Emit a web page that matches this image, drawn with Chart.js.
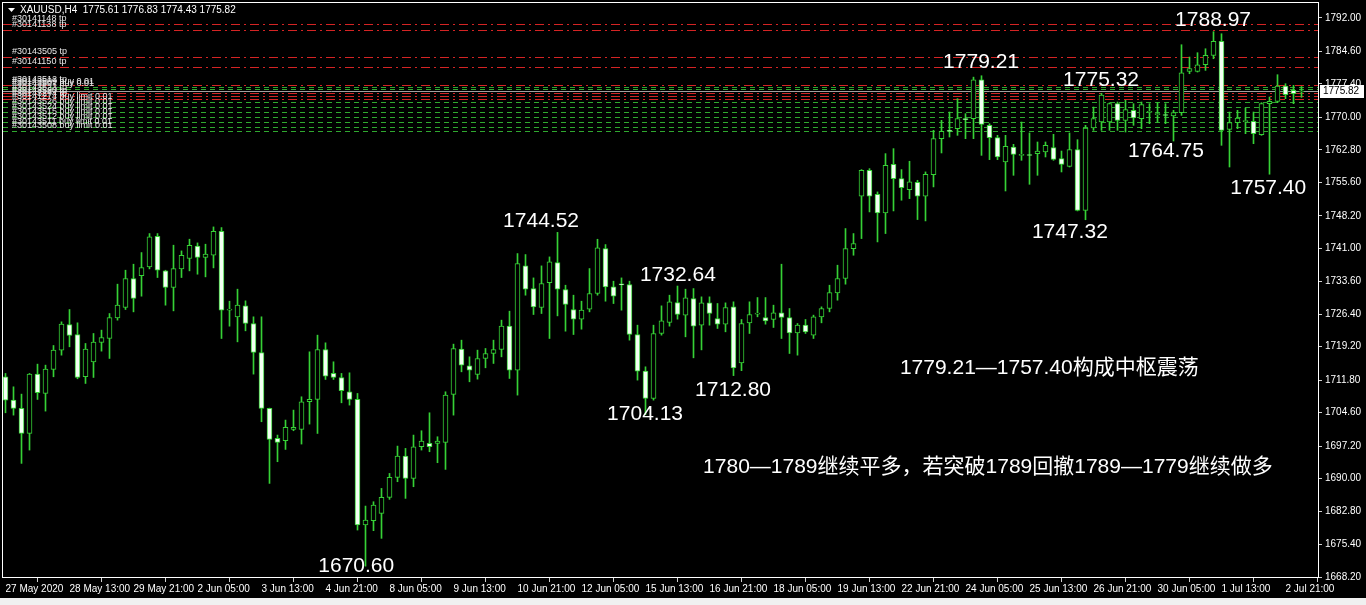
<!DOCTYPE html>
<html>
<head>
<meta charset="utf-8">
<script src="https://cdn.jsdelivr.net/npm/chart.js@4.4.1/dist/chart.umd.min.js"></script>
<style>
html,body{margin:0;padding:0;background:#000;overflow:hidden;}
canvas{display:block;}
</style>
</head>
<body>
<canvas id="c" width="1366" height="605"></canvas>
<script>
// ---- data (XAUUSD H4, one entry per bar) ----
const opens = [1712.54,1707.37,1705.53,1699.99,1713.13,1708.85,1714.16,1718.44,1724.12,1721.91,1712.54,1715.86,1720.14,1721.02,1725.59,1727.88,1734.30,1734.96,1736.88,1743.67,1736.00,1732.31,1736.44,1738.73,1741.46,1738.95,1739.46,1744.78,1727.29,1725.82,1728.25,1724.34,1717.92,1705.53,1698.89,1698.37,1700.88,1700.88,1707.01,1707.52,1718.59,1713.28,1712.39,1709.22,1707.52,1679.71,1680.67,1682.29,1685.83,1690.26,1694.98,1690.04,1697.05,1697.79,1697.79,1698.00,1708.63,1718.66,1714.97,1713.05,1716.59,1717.70,1718.58,1723.75,1714.01,1737.10,1732.08,1727.88,1733.41,1737.84,1731.86,1727.44,1725.30,1727.51,1730.98,1740.94,1732.45,1732.97,1732.97,1721.90,1713.79,1707.74,1722.12,1724.56,1728.99,1726.18,1729.87,1723.97,1728.91,1725.45,1724.19,1728.03,1715.60,1724.49,1726.41,1725.67,1725.23,1726.70,1725.67,1722.28,1723.97,1721.76,1725.82,1727.66,1731.13,1734.30,1740.94,1752.52,1758.27,1752.96,1748.83,1759.60,1756.43,1753.99,1755.62,1752.52,1757.32,1765.28,1767.00,1767.49,1769.55,1769.70,1778.33,1768.22,1765.50,1760.11,1763.43,1761.58,1761.60,1761.95,1762.32,1763.28,1760.85,1759.15,1762.84,1749.41,1767.63,1768.96,1768.96,1773.02,1769.33,1771.55,1769.70,1771.10,1770.60,1770.50,1770.29,1771.03,1780.18,1780.18,1781.65,1783.72,1786.82,1767.34,1768.82,1769.05,1769.11,1766.16,1773.02,1773.54,1776.93,1775.97,1775.61];
const highs = [1713.28,1710.32,1708.70,1713.28,1715.34,1715.12,1719.47,1724.71,1727.44,1724.49,1719.92,1722.13,1722.87,1726.55,1733.05,1736.14,1737.47,1740.05,1744.26,1744.26,1736.14,1741.68,1740.42,1743.01,1742.19,1741.90,1745.73,1745.59,1729.28,1731.94,1729.36,1725.82,1725.82,1705.60,1699.63,1702.95,1705.16,1708.11,1718.07,1721.76,1720.06,1715.86,1713.28,1713.42,1708.85,1683.91,1684.87,1687.82,1691.14,1697.19,1696.68,1699.63,1700.59,1704.57,1699.26,1709.22,1719.77,1720.65,1716.96,1718.44,1718.81,1720.65,1725.08,1727.07,1739.83,1739.61,1734.44,1737.10,1739.09,1744.52,1732.82,1730.61,1729.28,1736.51,1743.00,1741.82,1733.71,1734.44,1733.71,1723.97,1714.75,1723.97,1728.25,1730.61,1732.64,1731.94,1732.08,1730.24,1730.24,1728.77,1728.91,1729.14,1725.23,1729.14,1730.09,1730.09,1728.40,1737.47,1727.66,1724.34,1725.23,1726.19,1728.03,1732.82,1737.25,1745.37,1744.26,1758.42,1758.64,1753.48,1761.96,1763.07,1758.42,1760.27,1756.06,1757.91,1767.13,1769.34,1771.18,1774.13,1770.81,1778.90,1779.21,1768.59,1766.01,1766.01,1764.02,1768.96,1766.53,1764.54,1764.54,1766.23,1762.54,1766.53,1765.05,1768.22,1772.28,1775.32,1773.20,1773.39,1773.76,1773.02,1773.39,1773.02,1773.24,1773.02,1771.55,1786.08,1783.35,1784.31,1785.19,1788.97,1788.51,1771.18,1771.55,1772.06,1771.18,1773.24,1774.50,1779.44,1777.45,1777.08,1776.83];
const lows = [1704.57,1704.05,1693.36,1696.31,1707.52,1704.94,1712.54,1717.33,1719.18,1712.10,1711.06,1712.39,1718.22,1716.60,1725.08,1727.44,1726.92,1730.39,1736.44,1734.52,1728.40,1727.14,1734.52,1736.00,1735.26,1734.67,1736.66,1721.02,1723.75,1720.28,1722.72,1713.13,1702.58,1688.93,1693.73,1696.45,1700.59,1697.64,1702.06,1699.99,1711.95,1711.95,1706.78,1706.27,1678.60,1670.60,1678.46,1676.76,1685.39,1689.30,1685.61,1688.19,1696.31,1695.94,1693.51,1692.03,1704.05,1713.64,1711.43,1712.02,1714.53,1715.49,1716.96,1712.17,1708.48,1730.61,1726.33,1726.55,1721.02,1726.03,1722.64,1721.90,1723.08,1726.92,1730.61,1729.28,1728.76,1727.29,1720.65,1711.80,1704.13,1707.37,1721.76,1723.75,1725.30,1721.39,1716.74,1718.50,1723.97,1723.24,1722.50,1712.80,1713.90,1722.13,1725.82,1724.19,1723.46,1721.02,1717.70,1717.33,1722.13,1721.02,1724.49,1726.92,1729.50,1733.05,1739.46,1743.15,1749.05,1742.41,1744.26,1749.27,1751.64,1752.00,1747.36,1747.06,1754.59,1762.11,1765.64,1766.01,1765.27,1765.27,1761.58,1760.63,1760.63,1753.69,1757.16,1760.48,1755.17,1757.16,1761.22,1760.48,1757.90,1759.00,1749.27,1747.32,1767.12,1767.12,1767.12,1767.12,1766.75,1768.23,1767.49,1768.60,1768.96,1768.60,1764.75,1770.44,1779.66,1780.03,1780.40,1782.98,1763.80,1759.00,1767.49,1766.38,1764.17,1766.01,1757.40,1773.24,1774.13,1773.02,1774.43];
const closes = [1707.37,1705.53,1699.99,1713.13,1709.00,1714.23,1718.44,1724.19,1721.69,1712.39,1718.66,1720.21,1721.24,1725.67,1728.40,1734.30,1729.87,1736.73,1743.52,1736.14,1732.31,1736.51,1739.46,1741.68,1738.95,1739.69,1744.78,1727.29,1727.40,1728.40,1724.34,1717.92,1705.53,1698.67,1698.00,1701.33,1701.33,1707.01,1707.52,1718.59,1712.69,1712.39,1709.44,1707.52,1679.71,1680.82,1684.14,1685.83,1690.26,1694.98,1690.04,1697.05,1698.30,1697.05,1698.30,1708.48,1718.81,1715.12,1714.01,1716.59,1717.70,1718.58,1723.75,1714.01,1737.62,1731.94,1728.03,1733.19,1737.99,1731.94,1728.54,1725.30,1727.29,1730.98,1741.08,1732.45,1730.39,1732.90,1721.90,1713.79,1707.74,1722.12,1724.93,1729.13,1726.33,1730.02,1723.75,1728.91,1726.55,1724.19,1727.88,1714.50,1724.34,1726.33,1726.45,1724.93,1726.70,1725.67,1722.28,1723.97,1722.50,1725.82,1727.66,1731.20,1734.30,1740.94,1742.05,1758.27,1752.52,1748.83,1759.38,1756.43,1754.44,1755.69,1752.52,1757.39,1765.28,1766.91,1766.90,1769.70,1769.48,1778.33,1768.45,1765.50,1761.22,1763.58,1761.81,1761.65,1761.55,1762.54,1763.80,1760.70,1759.59,1762.84,1749.41,1767.63,1769.70,1774.90,1773.02,1769.33,1771.69,1769.85,1772.80,1771.25,1770.70,1770.40,1771.03,1779.88,1780.77,1781.65,1783.72,1786.82,1767.12,1768.82,1769.85,1769.11,1766.38,1773.02,1773.54,1776.93,1775.01,1775.23,1775.82];

// time-axis labels, one every 8 bars starting at bar 0
const timeLabels = ['27 May 2020','28 May 13:00','29 May 21:00','2 Jun 05:00','3 Jun 13:00','4 Jun 21:00','8 Jun 05:00','9 Jun 13:00','10 Jun 21:00','12 Jun 05:00','15 Jun 13:00','16 Jun 21:00','18 Jun 05:00','19 Jun 13:00','22 Jun 21:00','24 Jun 05:00','25 Jun 13:00','26 Jun 21:00','30 Jun 05:00','1 Jul 13:00','2 Jul 21:00'];
const timeLabelStep = 8;
// price axis labels
const priceTicks = [1792.00,1784.60,1777.40,1770.00,1762.80,1755.60,1748.20,1741.00,1733.60,1726.40,1719.20,1711.80,1704.60,1697.20,1690.00,1682.80,1675.40,1668.20];
const priceMin = 1668.2, priceMax = 1795.32;
const lastPrice = 1775.82;
const headerText = 'XAUUSD,H4  1775.61 1776.83 1774.43 1775.82';

// order levels
const levelPrices = [1790.66,1789.33,1783.35,1781.14,1777.15,1776.70,1776.20,1775.38,1774.72,1774.16,1773.40,1772.30,1771.20,1770.10,1769.00,1767.90,1767.00];
const levelKinds  = ['tp','tp','tp','tp','tp','buy','buy','tp','tp','tp','limit','limit','limit','limit','limit','limit','limit'];
const levelLabels = ['#30141148 tp','#30141138 tp','#30143505 tp','#30141150 tp','#30143512 tp','#30143509 buy 0.01','#30143507 buy 0.01','#30143523 tp','#30143520 tp','#30143274 tp','#30141274 buy limit 0.01','#30143526 buy limit 0.01','#30143524 buy limit 0.01','#30143515 buy limit 0.01','#30143512 buy limit 0.01','#30143511 buy limit 0.01','#30143508 buy limit 0.01'];

// text notes: [text, bar index of left edge, price of text centre]
const noteTexts  = ['1788.97','1779.21','1775.32','1744.52','1732.64','1764.75','1757.40','1747.32','1712.80','1704.13','1670.60','1779.21—1757.40构成中枢震荡','1780—1789继续平多，若突破1789回撤1789—1779继续做多'];
const noteBars   = [146.2,117.2,132.2,62.2,79.3,140.3,153.1,128.3,86.2,75.2,39.1,111.8,87.2];
const notePrices = [1791.55,1782.25,1778.26,1747.03,1735.07,1762.54,1754.34,1744.60,1709.61,1704.29,1670.64,1714.48,1692.55];

// ---- styles ----
const GREEN = '#36d136';
const BEAR_FILL = '#f2fff2';
const BULL_FILL = '#000000';
const AXIS_FONT = {family:'"Liberation Sans", Arial, sans-serif', size:10};

const n = closes.length;
const bodyData = [], wickData = [], bodyFill = [];
for (let i = 0; i < n; i++) {
  const o = opens[i], c = closes[i];
  bodyData.push({x:i, y:[Math.min(o,c), Math.max(o,c)]});
  wickData.push({x:i, y:[lows[i], highs[i]]});
  bodyFill.push(c >= o ? BULL_FILL : BEAR_FILL);
}

const chromePlugin = {
  id:'chrome',
  beforeDraw(chart){
    const c = chart.ctx;
    c.save();
    c.fillStyle = '#000';
    c.fillRect(0,0,chart.width,chart.height);
    c.fillStyle = '#f0f0f0';
    c.fillRect(0,598,chart.width,chart.height-598);
    c.restore();
  },
  beforeDatasetsDraw(chart){
    const c = chart.ctx, a = chart.chartArea, ys = chart.scales.y;
    c.save();
    c.beginPath(); c.rect(a.left, a.top, a.right-a.left, a.bottom-a.top); c.clip();
    // bid line
    const yb = Math.round(ys.getPixelForValue(lastPrice)) + 0.5;
    c.strokeStyle = '#a0a0a0'; c.lineWidth = 1; c.setLineDash([]);
    c.beginPath(); c.moveTo(a.left, yb); c.lineTo(a.right, yb); c.stroke();
    for (let k = 0; k < levelPrices.length; k++) {
      const y = Math.round(ys.getPixelForValue(levelPrices[k])) + 0.5;
      if (levelKinds[k] === 'tp') { c.strokeStyle = '#d42424'; c.setLineDash([9,4,2,4]); }
      else { c.strokeStyle = '#2fa82f'; c.setLineDash([5,4]); }
      c.beginPath(); c.moveTo(a.left, y); c.lineTo(a.right, y); c.stroke();
    }
    c.setLineDash([]);
    c.font = '9px "Liberation Sans", Arial, sans-serif';
    c.textBaseline = 'bottom'; c.textAlign = 'left';
    for (let k = 0; k < levelPrices.length; k++) {
      const y = Math.round(ys.getPixelForValue(levelPrices[k]));
      c.fillStyle = '#e8e8e8';
      c.fillText(levelLabels[k], a.left + 9, y - 1);
    }
    c.restore();
  },
  afterDraw(chart){
    const c = chart.ctx, a = chart.chartArea, xs = chart.scales.x, ys = chart.scales.y;
    c.save();
    // frame
    c.strokeStyle = '#ffffff'; c.lineWidth = 1;
    c.strokeRect(a.left - 0.5, a.top - 0.5, a.right - a.left + 1, a.bottom - a.top + 1);
    // header
    c.fillStyle = '#ffffff';
    c.beginPath(); c.moveTo(8,8); c.lineTo(15,8); c.lineTo(11.5,12); c.closePath(); c.fill();
    c.font = '10px "Liberation Sans", Arial, sans-serif';
    c.textBaseline = 'middle'; c.textAlign = 'left';
    c.fillText(headerText, 20, 10);
    // notes
    c.font = '21px "Liberation Sans", Arial, "Noto Sans CJK SC", sans-serif';
    c.textBaseline = 'middle';
    for (let k = 0; k < noteTexts.length; k++) {
      c.fillText(noteTexts[k], xs.getPixelForValue(noteBars[k]), ys.getPixelForValue(notePrices[k]));
    }
    // last price tag
    const yp = Math.round(ys.getPixelForValue(lastPrice));
    c.fillStyle = '#ffffff';
    c.fillRect(a.right + 2, yp - 6, 44, 13);
    c.fillStyle = '#000000';
    c.font = '10px "Liberation Sans", Arial, sans-serif';
    c.fillText(lastPrice.toFixed(2), a.right + 5, yp + 0.5);
    c.restore();
  }
};

new Chart(document.getElementById('c'), {
  type:'bar',
  data:{
    datasets:[
      {label:'body', data:bodyData, backgroundColor:bodyFill, borderColor:GREEN, borderWidth:1,
       borderSkipped:false, barThickness:5, minBarLength:1, grouped:false, order:0},
      {label:'wick', data:wickData, backgroundColor:GREEN, borderWidth:0,
       barThickness:1, grouped:false, order:1}
    ]
  },
  options:{
    responsive:false, animation:false, devicePixelRatio:1,
    layout:{padding:{left:3, top:3, right:0, bottom:7}},
    plugins:{legend:{display:false}, tooltip:{enabled:false}},
    scales:{
      x:{type:'linear', min:-0.3125, max:164.0625, offset:false,
         grid:{display:true, drawOnChartArea:false, drawTicks:true, tickLength:5, color:'#d0d0d0'},
         border:{display:true, color:'#ffffff'},
         ticks:{color:'#ffffff', font:AXIS_FONT, align:'start', maxRotation:0, minRotation:0, autoSkip:false, padding:1,
                callback:(v)=> timeLabels[Math.round(v/timeLabelStep)] || ''},
         afterBuildTicks:(s)=>{ s.ticks = timeLabels.map((t,i)=>({value:i*timeLabelStep})); },
         afterFit:(s)=>{ s.height = 21; s.paddingLeft = 0; s.paddingRight = 0; }},
      y:{position:'right', min:priceMin, max:priceMax,
         grid:{display:true, drawOnChartArea:false, drawTicks:true, tickLength:4, color:'#d0d0d0'},
         border:{display:true, color:'#ffffff'},
         ticks:{color:'#ffffff', font:AXIS_FONT, padding:3, callback:(v)=> Number(v).toFixed(2)},
         afterBuildTicks:(s)=>{ s.ticks = priceTicks.map(v=>({value:v})); },
         afterFit:(s)=>{ s.width = 48; s.paddingTop = 0; s.paddingBottom = 0; }}
    }
  },
  plugins:[chromePlugin]
});
</script>
</body>
</html>
